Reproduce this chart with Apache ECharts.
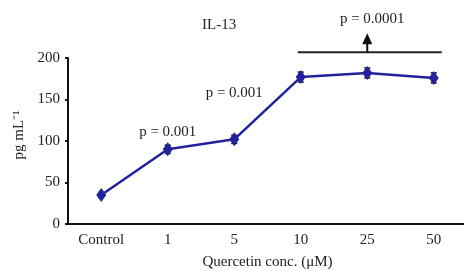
<!DOCTYPE html>
<html>
<head>
<meta charset="utf-8">
<script src="https://cdn.jsdelivr.net/npm/echarts@6/dist/echarts.min.js"></script>
<style>
  html, body { margin: 0; padding: 0; background: #fff; }
  #main { width: 464px; height: 271px; }
</style>
</head>
<body>
<div id="main"></div>
<script>
    // data
    let categories = ['Control', '1', '5', '10', '25', '50'];
    let il13 = [35, 90, 102, 177, 182, 176];
    let il13Err = [3, 5, 5, 6, 6, 6];
    let yTicks = [0, 50, 100, 150, 200];
    // p-value labels, positioned by category index and value
    let pLabels = [
        {text: 'p = 0.001', idx: 0.85, y: 111},
        {text: 'p = 0.001', idx: 2.13, y: 158}
    ];
    let bracketY = 207;
    let bracketFrom = 3, bracketTo = 5, arrowAt = 4;

    let font = 'Liberation Serif';
    let fs = 15;
    let blue = '#22229c';

    let chart = echarts.init(document.getElementById('main'));
    let option = {
        animation: false,
        title: {
            text: 'IL-13',
            left: 197,
            top: 13,
            textStyle: {fontFamily: font, fontSize: fs, fontWeight: 'normal', color: '#222'}
        },
        grid: {left: 68, right: -3, top: 58, bottom: 47, outerBoundsMode: 'none', containLabel: false},
        xAxis: {
            type: 'category',
            data: categories,
            name: 'Quercetin conc. (μM)',
            nameLocation: 'middle',
            nameGap: 31,
            nameTextStyle: {fontFamily: font, fontSize: fs, color: '#222'},
            axisLine: {lineStyle: {color: '#111', width: 2}},
            axisTick: {length: 4, lineStyle: {color: '#111', width: 2}},
            axisLabel: {fontFamily: font, fontSize: fs, color: '#222', margin: 9}
        },
        yAxis: {
            type: 'value',
            min: yTicks[0],
            max: yTicks[yTicks.length - 1],
            interval: 50,
            name: 'pg mL⁻¹',
            nameLocation: 'middle',
            nameGap: 36,
            nameTextStyle: {fontFamily: font, fontSize: fs, color: '#222', padding: [0, 0, 0, 12]},
            splitLine: {show: false},
            axisLine: {show: true, lineStyle: {color: '#111', width: 2}},
            axisTick: {show: true, length: 3, lineStyle: {color: '#111', width: 2}},
            axisLabel: {fontFamily: font, fontSize: fs, color: '#222', margin: 8}
        },
        series: [
            {
                type: 'custom',
                z: 1,
                renderItem: function (params, api) {
                    let x = api.value(0);
                    let v = api.value(1);
                    let e = api.value(2);
                    let hi = api.coord([x, v + e]);
                    let lo = api.coord([x, v - e]);
                    let w = 3;
                    let style = {stroke: '#111', lineWidth: 1.5};
                    return {
                        type: 'group',
                        children: [
                            {type: 'line', shape: {x1: hi[0], y1: hi[1], x2: lo[0], y2: lo[1]}, style: style},
                            {type: 'line', shape: {x1: hi[0] - w, y1: hi[1], x2: hi[0] + w, y2: hi[1]}, style: style},
                            {type: 'line', shape: {x1: lo[0] - w, y1: lo[1], x2: lo[0] + w, y2: lo[1]}, style: style}
                        ]
                    };
                },
                data: il13.map(function (v, i) { return [i, v, il13Err[i]]; })
            },
            {
                type: 'line',
                z: 2,
                data: il13,
                symbol: 'diamond',
                symbolSize: [10, 14],
                lineStyle: {color: blue, width: 2.5},
                itemStyle: {color: blue}
            }
        ]
    };
    chart.setOption(option);

    // annotations placed through the axes' own scales
    let g = [];
    let txt = fs + 'px "Liberation Serif"';
    pLabels.forEach(function (p) {
        let pt = chart.convertToPixel({gridIndex: 0}, [p.idx, p.y]);
        g.push({
            type: 'text', x: pt[0], y: pt[1],
            style: {text: p.text, font: txt, fill: '#222', align: 'center', verticalAlign: 'middle'}
        });
    });
    let b1 = chart.convertToPixel({gridIndex: 0}, [bracketFrom, bracketY]);
    let b2 = chart.convertToPixel({gridIndex: 0}, [bracketTo, bracketY]);
    let am = chart.convertToPixel({gridIndex: 0}, [arrowAt, bracketY]);
    g.push({type: 'line', shape: {x1: b1[0] - 3, y1: b1[1], x2: b2[0] + 8, y2: b2[1]}, style: {stroke: '#222', lineWidth: 2}});
    g.push({type: 'line', shape: {x1: am[0], y1: am[1], x2: am[0], y2: am[1] - 10}, style: {stroke: '#111', lineWidth: 2}});
    g.push({type: 'polygon', shape: {points: [[am[0] - 5, am[1] - 8], [am[0] + 5, am[1] - 8], [am[0], am[1] - 19]]}, style: {fill: '#111'}});
    g.push({
        type: 'text', x: am[0] + 5, y: am[1] - 33,
        style: {text: 'p = 0.0001', font: txt, fill: '#222', align: 'center', verticalAlign: 'middle'}
    });
    chart.setOption({graphic: g});
</script>
</body>
</html>
